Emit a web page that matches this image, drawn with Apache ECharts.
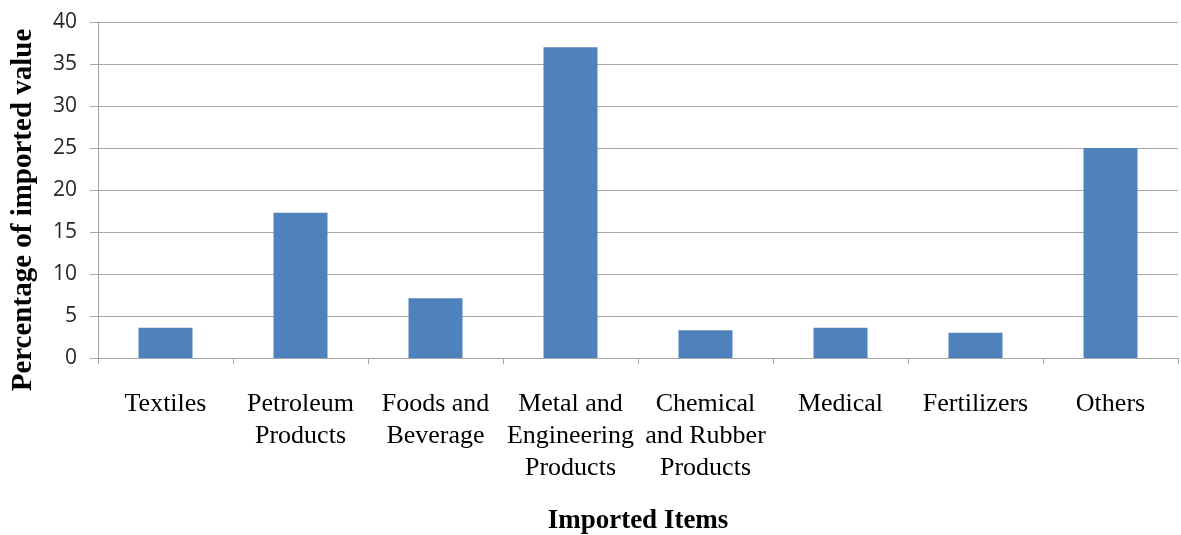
<!DOCTYPE html>
<html>
<head>
<meta charset="utf-8">
<title>Imported Items</title>
<script src="https://cdn.jsdelivr.net/npm/echarts@6/dist/echarts.min.js"></script>
<style>
  html, body { margin: 0; padding: 0; background: #ffffff; }
  #chart { width: 1181px; height: 535px; }
</style>
</head>
<body>
<div id="chart"></div>
<script>
// Share of total import value by item group (%)
const categories = [
  'Textiles',
  'Petroleum\nProducts',
  'Foods and\nBeverage',
  'Metal and\nEngineering\nProducts',
  'Chemical\nand Rubber\nProducts',
  'Medical',
  'Fertilizers',
  'Others'
];
const importShare = [3.6, 17.3, 7.1, 37, 3.3, 3.6, 3.0, 25];
const yTicks = { min: 0, max: 40, interval: 5 };

const gridGray = '#a6a6a6';
const serif = '"Liberation Serif", "DejaVu Serif", serif';

const chart = echarts.init(document.getElementById('chart'), null, { renderer: 'canvas' });
chart.setOption({
  animation: false,
  backgroundColor: '#ffffff',
  grid: { left: 98, right: 3, top: 22, bottom: 177, containLabel: false, outerBoundsMode: 'none' },
  xAxis: {
    type: 'category',
    data: categories,
    boundaryGap: true,
    name: 'Imported Items',
    nameLocation: 'middle',
    nameGap: 150,
    nameTextStyle: { fontFamily: serif, fontWeight: 'bold', fontSize: 27, color: '#000000' },
    axisLine: { show: true, lineStyle: { color: gridGray, width: 1 } },
    axisTick: { show: true, length: 6, lineStyle: { color: gridGray } },
    axisLabel: {
      interval: 0,
      margin: 30,
      fontFamily: serif,
      fontSize: 26,
      lineHeight: 32,
      color: '#000000',
      align: 'center'
    },
    splitLine: { show: false }
  },
  yAxis: {
    type: 'value',
    min: yTicks.min,
    max: yTicks.max,
    interval: yTicks.interval,
    name: 'Percentage of imported value',
    nameLocation: 'middle',
    nameGap: 60,
    nameRotate: 90,
    nameTextStyle: {
      fontFamily: serif, fontWeight: 'bold', fontSize: 29, color: '#000000',
      padding: [0, 40, 0, 0]
    },
    axisLine: { show: true, lineStyle: { color: gridGray, width: 1 } },
    axisTick: { show: true, inside: false, length: 8, lineStyle: { color: gridGray } },
    axisLabel: {
      margin: 21,
      fontFamily: '"Open Sans", "Liberation Sans", sans-serif',
      fontSize: 21,
      color: '#262626'
    },
    splitLine: { show: true, lineStyle: { color: gridGray, width: 1 } }
  },
  series: [{
    type: 'bar',
    data: importShare,
    barWidth: '40%',
    itemStyle: { color: '#4f81bd' }
  }]
});
</script>
</body>
</html>
